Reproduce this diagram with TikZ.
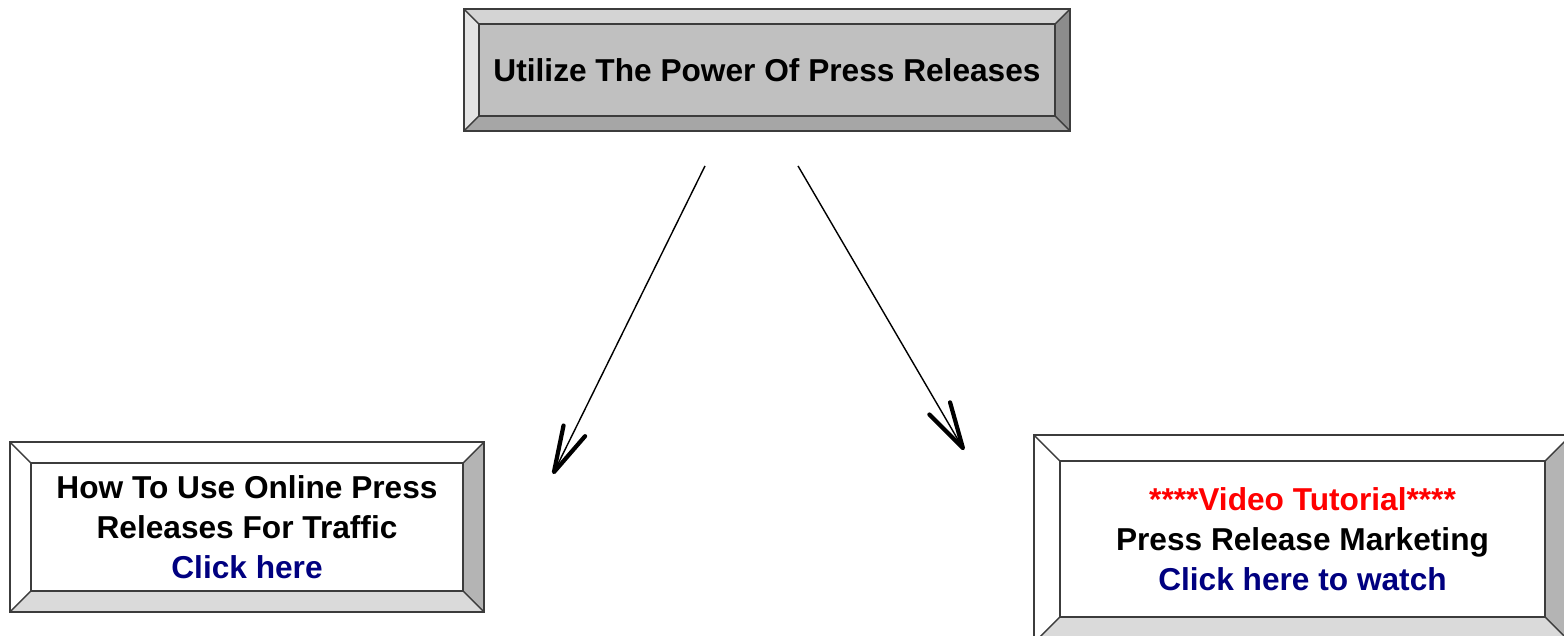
\documentclass[tikz,border=0pt]{standalone}
\usepackage{fontspec}
\setmainfont{Liberation Sans}
\usepackage{xcolor}
\usepackage{tikz}
\usetikzlibrary{
arrows.meta,
positioning,
calc
}
\definecolor{prnavy}{HTML}{000080}
\definecolor{prred}{HTML}{FF0000}
\definecolor{prline}{HTML}{3C3C3C}
\definecolor{prface}{HTML}{C0C0C0}
\definecolor{prtop}{HTML}{D4D4D4}
\definecolor{prleft}{HTML}{E4E4E4}
\definecolor{prright}{HTML}{8C8C8C}
\definecolor{prbottom}{HTML}{A6A6A6}
\definecolor{prsoftright}{HTML}{B4B4B4}
\definecolor{prsoftbottom}{HTML}{DADADA}

\tikzset{
  bevel depth/.store in=\bvDepth,
  bevel face/.store in=\bvFace,
  bevel top/.store in=\bvTop,
  bevel left/.store in=\bvLeft,
  bevel right/.store in=\bvRight,
  bevel bottom/.store in=\bvBottom,
  bevelbox/.style={
    draw=prline, line width=0.5pt, inner sep=0pt, align=center,
    font=\fontsize{9}{11.4}\selectfont\bfseries,
    path picture={
      \coordinate (bvNW) at (path picture bounding box.north west);
      \coordinate (bvNE) at (path picture bounding box.north east);
      \coordinate (bvSW) at (path picture bounding box.south west);
      \coordinate (bvSE) at (path picture bounding box.south east);
      \coordinate (bvINW) at ($(bvNW)+(\bvDepth,-\bvDepth)$);
      \coordinate (bvINE) at ($(bvNE)+(-\bvDepth,-\bvDepth)$);
      \coordinate (bvISW) at ($(bvSW)+(\bvDepth,\bvDepth)$);
      \coordinate (bvISE) at ($(bvSE)+(-\bvDepth,\bvDepth)$);
      \fill[\bvFace] (bvNW) rectangle (bvSE);
      \fill[\bvTop] (bvNW) -- (bvNE) -- (bvINE) -- (bvINW) -- cycle;
      \fill[\bvLeft] (bvNW) -- (bvINW) -- (bvISW) -- (bvSW) -- cycle;
      \fill[\bvRight] (bvNE) -- (bvSE) -- (bvISE) -- (bvINE) -- cycle;
      \fill[\bvBottom] (bvSW) -- (bvSE) -- (bvISE) -- (bvISW) -- cycle;
      \draw[prline, line width=0.4pt] (bvINW) rectangle (bvISE);
      \draw[prline, line width=0.4pt]
        (bvNW) -- (bvINW) (bvNE) -- (bvINE)
        (bvSW) -- (bvISW) (bvSE) -- (bvISE);
    }
  },
  graybevel/.style={bevelbox, bevel depth=0.15cm, bevel face=prface,
    bevel top=prtop, bevel left=prleft, bevel right=prright,
    bevel bottom=prbottom},
  whitebevel/.style={bevelbox, bevel face=white,
    bevel top=white, bevel left=white, bevel right=prsoftright,
    bevel bottom=prsoftbottom},
  link/.style={line width=0.4pt,
    -{Straight Barb[length=4.6mm, width=2.4mm, line width=1.2pt, round]}}
}

\begin{document}
\begin{tikzpicture}[x=0.01cm, y=-0.01cm]

\path[use as bounding box, clip] (0,0) rectangle (1564,635);

%% Top box
\node[graybevel, minimum width=6.06cm, minimum height=1.22cm]
  (power) at (767,70) {Utilize The Power Of Press Releases};

%% Lower boxes
\node[whitebevel, bevel depth=0.21cm, minimum width=4.74cm, minimum height=1.70cm]
  (onlinePR) at (247,527)
  {How To Use Online Press\\
   Releases For Traffic\\
   \textcolor{prnavy}{Click here}};

\node[whitebevel, bevel depth=0.26cm, minimum width=5.37cm, minimum height=2.08cm]
  (videoPR) at (1302.5,539)
  {\textcolor{prred}{****Video Tutorial****}\\
   Press Release Marketing\\
   \textcolor{prnavy}{Click here to watch}};

%% Arrow ends
\coordinate (leftStart)  at ($(power.south)+(-62,34)$);
\coordinate (rightStart) at ($(power.south)+(31,34)$);
\coordinate (leftTip)  at (553,474);
\coordinate (rightTip) at (964,450);

\draw[link] (leftStart) -- (leftTip);
\draw[link] (rightStart) -- (rightTip);

\end{tikzpicture}
\end{document}
